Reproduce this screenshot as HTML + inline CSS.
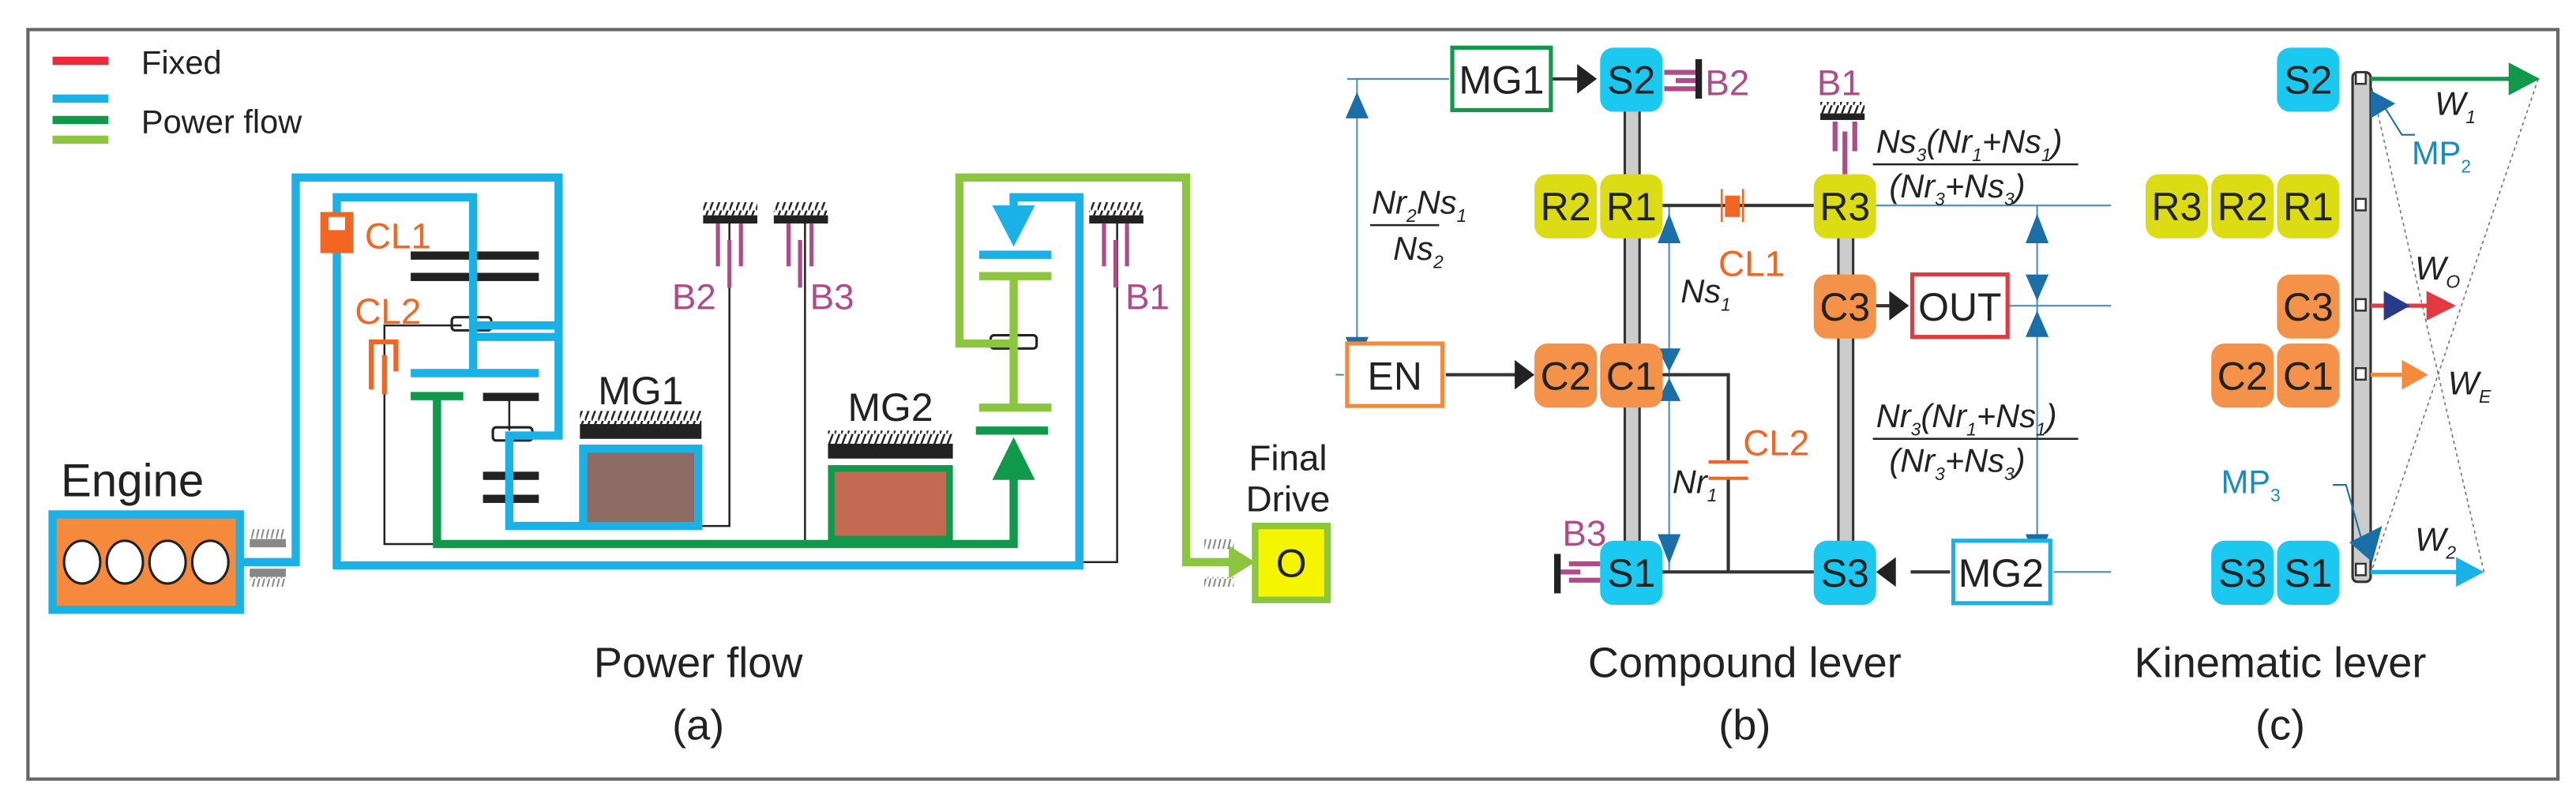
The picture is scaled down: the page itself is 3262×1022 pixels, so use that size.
<!DOCTYPE html>
<html><head><meta charset="utf-8"><style>
html,body{margin:0;padding:0;background:#fff}
svg{display:block}
text{font-family:"Liberation Sans Narrow","Liberation Sans",sans-serif}
</style></head><body>
<svg width="3262" height="1022" viewBox="0 0 1568 491" preserveAspectRatio="none" xmlns="http://www.w3.org/2000/svg">
<defs>
<pattern id="h" width="4" height="8" patternUnits="userSpaceOnUse"><line x1="0" y1="8" x2="3" y2="0" stroke="#222" stroke-width="1.2"/></pattern>
<pattern id="hg" width="3" height="8" patternUnits="userSpaceOnUse"><line x1="0" y1="8" x2="2" y2="0" stroke="#888" stroke-width="1"/></pattern>
</defs>
<rect x="17" y="18" width="1540" height="456" fill="#fff" stroke="#666" stroke-width="2"/>

<!-- ===== Panel (a) ===== -->
<line x1="32" y1="37" x2="66" y2="37" stroke="#ee2a3a" stroke-width="5"/>
<text x="86" y="45" font-size="20" fill="#222">Fixed</text>
<line x1="32" y1="60" x2="66" y2="60" stroke="#1ab2e6" stroke-width="5"/>
<line x1="32" y1="73" x2="66" y2="73" stroke="#10994a" stroke-width="5"/>
<line x1="32" y1="85" x2="66" y2="85" stroke="#8cc63f" stroke-width="5"/>
<text x="86" y="81" font-size="20" fill="#222">Power flow</text>

<!-- thin black lines -->
<g stroke="#222" stroke-width="1.2" fill="none">
<polyline points="444,135 444,320 427,320"/>
<polyline points="490,135 490,330"/>
<polyline points="680,135 680,342 657,342"/>
<polyline points="281,198 234,198 234,331 266,331"/>
<line x1="310" y1="241" x2="310" y2="262"/>
<line x1="617" y1="170" x2="617" y2="200"/>
</g>
<!-- black gear bars -->
<g fill="#222">
<rect x="250" y="153" width="78" height="5"/>
<rect x="250" y="166" width="78" height="5"/>
<rect x="294" y="239" width="34" height="5"/>
<rect x="294" y="287" width="34" height="5"/>
<rect x="294" y="301" width="34" height="5"/>
<rect x="353" y="258" width="74" height="9"/>
<rect x="504" y="270" width="76" height="9"/>
</g>
<rect x="353" y="250" width="74" height="8" fill="url(#h)"/>
<rect x="504" y="262" width="76" height="8" fill="url(#h)"/>
<!-- planet carriers small -->
<g stroke="#222" stroke-width="1.5" fill="none">
<rect x="275" y="193" width="24" height="8" rx="2"/>
<rect x="300" y="260" width="24" height="8" rx="2"/>
<rect x="603" y="204" width="28" height="8" rx="2"/>
</g>

<!-- blue power flow -->
<g stroke="#1ab2e6" stroke-width="5" fill="none" stroke-linejoin="miter">
<polyline points="148,342 180,342 180,108 340,108 340,265 310,265 310,320 353,320"/>
<polyline points="288,227 288,120 205,120 205,344 657,344 657,120 617,120 617,128"/>
<line x1="288" y1="198" x2="340" y2="198"/>
<line x1="288" y1="205" x2="340" y2="205"/>
<line x1="250" y1="227" x2="328" y2="227"/>
<line x1="596" y1="155" x2="640" y2="155"/>
</g>
<polygon points="604,125 630,125 617,150" fill="#1ab2e6"/>
<!-- MG1 -->
<rect x="355" y="273" width="70" height="47" fill="#8b6b63" stroke="#1ab2e6" stroke-width="5"/>
<text x="390" y="246" font-size="24" fill="#222" text-anchor="middle">MG1</text>

<!-- green dark -->
<g stroke="#10994a" stroke-width="5" fill="none">
<polyline points="266,241 266,331 617,331 617,290"/>
<line x1="250" y1="241" x2="282" y2="241"/>
<line x1="594" y1="262" x2="638" y2="262"/>
</g>
<polygon points="604,292 630,292 617,266" fill="#10994a"/>
<!-- MG2 -->
<rect x="506" y="285" width="72" height="43" fill="#c46a52" stroke="#10994a" stroke-width="4"/>
<text x="542" y="256" font-size="24" fill="#222" text-anchor="middle">MG2</text>

<!-- light green -->
<g stroke="#8cc63f" stroke-width="5" fill="none">
<polyline points="617,209 584,209 584,108 722,108 722,342 752,342"/>
<line x1="617" y1="170" x2="617" y2="248"/>
<line x1="596" y1="168" x2="640" y2="168"/>
<line x1="596" y1="248" x2="640" y2="248"/>
</g>
<polygon points="748,332 764,342 748,352" fill="#8cc63f"/>

<!-- CL1 CL2 -->
<rect x="195" y="129" width="20" height="25" fill="#f26522"/>
<rect x="200" y="132" width="10" height="8" fill="#fff"/>
<text x="222" y="151" font-size="22" fill="#f26522">CL1</text>
<text x="216" y="197" font-size="22" fill="#f26522">CL2</text>
<path d="M226,237 V208 H241 V226 M234,216 V240" stroke="#f26522" stroke-width="3" fill="none"/>

<!-- brakes -->
<g fill="#222"><rect x="428" y="131" width="33" height="5"/><rect x="471" y="131" width="33" height="5"/><rect x="663" y="131" width="33" height="5"/></g>
<rect x="428" y="123" width="33" height="8" fill="url(#h)"/>
<rect x="471" y="123" width="33" height="8" fill="url(#h)"/>
<rect x="663" y="123" width="33" height="8" fill="url(#h)"/>
<g stroke="#b04b8a" stroke-width="2.5">
<line x1="437" y1="136" x2="437" y2="162"/><line x1="451" y1="136" x2="451" y2="162"/><line x1="444" y1="146" x2="444" y2="175"/>
<line x1="480" y1="136" x2="480" y2="162"/><line x1="494" y1="136" x2="494" y2="162"/><line x1="487" y1="146" x2="487" y2="175"/>
<line x1="672" y1="136" x2="672" y2="162"/><line x1="686" y1="136" x2="686" y2="162"/><line x1="679" y1="146" x2="679" y2="175"/>
</g>
<g font-size="22" fill="#b04b8a">
<text x="409" y="188">B2</text><text x="493" y="188">B3</text><text x="685" y="188">B1</text>
</g>

<!-- Engine -->
<text x="37" y="302" font-size="28" fill="#222">Engine</text>
<rect x="32" y="313" width="114" height="58" fill="#f58a3c" stroke="#1ab2e6" stroke-width="5"/>
<g fill="#fff" stroke="#222" stroke-width="1.5">
<ellipse cx="50" cy="342" rx="11" ry="13"/><ellipse cx="76" cy="342" rx="11" ry="13"/><ellipse cx="102" cy="342" rx="11" ry="13"/><ellipse cx="128" cy="342" rx="11" ry="13"/>
</g>
<rect x="152" y="328" width="22" height="5" fill="#888"/><rect x="152" y="322" width="22" height="6" fill="url(#hg)"/>
<rect x="152" y="346" width="22" height="5" fill="#888"/><rect x="152" y="351" width="22" height="6" fill="url(#hg)"/>
<rect x="733" y="328" width="18" height="6" fill="url(#hg)"/><rect x="733" y="351" width="18" height="6" fill="url(#hg)"/>

<!-- Final drive -->
<text x="784" y="286" font-size="22" fill="#222" text-anchor="middle">Final</text>
<text x="784" y="311" font-size="22" fill="#222" text-anchor="middle">Drive</text>
<rect x="764" y="320" width="44" height="45" fill="#f5f500" stroke="#8cc63f" stroke-width="4"/>
<text x="786" y="351" font-size="24" fill="#222" text-anchor="middle" font-family="Liberation Serif,serif">O</text>

<text x="425" y="412" font-size="26" fill="#222" text-anchor="middle">Power flow</text>
<text x="425" y="450" font-size="26" fill="#222" text-anchor="middle">(a)</text>

<!-- ===== Panel (b) ===== -->
<g stroke="#4a8db8" stroke-width="1" fill="none">
<line x1="820" y1="48" x2="882" y2="48"/><line x1="813" y1="228" x2="818" y2="228"/>
<line x1="826" y1="48" x2="826" y2="228"/>
<line x1="1016" y1="125" x2="1016" y2="348"/>
<line x1="1142" y1="125" x2="1285" y2="125"/>
<line x1="1222" y1="186" x2="1285" y2="186"/>
<line x1="1250" y1="348" x2="1285" y2="348"/>
<line x1="1240" y1="125" x2="1240" y2="348"/>
</g>
<g fill="#1a6fa8">
<polygon points="819,72 833,72 826,56"/><polygon points="819,205 833,205 826,221"/>
<polygon points="1009,148 1023,148 1016,130"/><polygon points="1009,212 1023,212 1016,226"/>
<polygon points="1009,244 1023,244 1016,230"/><polygon points="1009,325 1023,325 1016,343"/>
<polygon points="1233,148 1247,148 1240,130"/><polygon points="1233,167 1247,167 1240,183"/>
<polygon points="1233,205 1247,205 1240,189"/><polygon points="1233,325 1247,325 1240,343"/>
</g>
<!-- levers -->
<rect x="989" y="60" width="9" height="280" fill="#ccc" stroke="#333" stroke-width="1.5"/>
<rect x="1119" y="130" width="9" height="210" fill="#ccc" stroke="#333" stroke-width="1.5"/>
<g stroke="#333" stroke-width="2" fill="none">
<line x1="1010" y1="125" x2="1105" y2="125"/>
<polyline points="1010,228 1052,228 1052,348"/>
<line x1="1010" y1="348" x2="1105" y2="348"/>
<line x1="1142" y1="186" x2="1150" y2="186"/>
<line x1="945" y1="48" x2="965" y2="48"/>
<line x1="880" y1="228" x2="924" y2="228"/>
<line x1="1250" y1="348" x2="1250" y2="348"/>
<line x1="1163" y1="348" x2="1187" y2="348"/>
</g>
<g fill="#222">
<polygon points="960,39 972,48 960,57"/><polygon points="922,219 934,228 922,237"/>
<polygon points="1150,177 1162,186 1150,195"/><polygon points="1154,339 1142,348 1154,357"/>
</g>
<!-- boxes -->
<rect x="884" y="29" width="60" height="38" fill="#fff" stroke="#10994a" stroke-width="2.5"/>
<text x="914" y="57" font-size="24" fill="#222" text-anchor="middle">MG1</text>
<rect x="820" y="209" width="58" height="38" fill="#fff" stroke="#f58a3c" stroke-width="2.5"/>
<text x="849" y="237" font-size="24" fill="#222" text-anchor="middle">EN</text>
<rect x="1164" y="167" width="58" height="38" fill="#fff" stroke="#e23a40" stroke-width="2.5"/>
<text x="1193" y="195" font-size="24" fill="#222" text-anchor="middle">OUT</text>
<rect x="1189" y="329" width="59" height="38" fill="#fff" stroke="#1ab2e6" stroke-width="2.5"/>
<text x="1218" y="357" font-size="24" fill="#222" text-anchor="middle">MG2</text>
<!-- nodes b -->
<g font-size="24" text-anchor="middle" fill="#222">
<rect x="974" y="29" width="38" height="39" rx="8" fill="#1ac8f0"/><text x="993" y="57">S2</text>
<rect x="934" y="106" width="38" height="39" rx="8" fill="#dcdc14"/><text x="953" y="134">R2</text>
<rect x="974" y="106" width="38" height="39" rx="8" fill="#dcdc14"/><text x="993" y="134">R1</text>
<rect x="1104" y="106" width="38" height="39" rx="8" fill="#dcdc14"/><text x="1123" y="134">R3</text>
<rect x="1104" y="167" width="38" height="39" rx="8" fill="#f5924a"/><text x="1123" y="195">C3</text>
<rect x="934" y="209" width="38" height="39" rx="8" fill="#f5924a"/><text x="953" y="237">C2</text>
<rect x="974" y="209" width="38" height="39" rx="8" fill="#f5924a"/><text x="993" y="237">C1</text>
<rect x="974" y="329" width="38" height="39" rx="8" fill="#1ac8f0"/><text x="993" y="357">S1</text>
<rect x="1104" y="329" width="38" height="39" rx="8" fill="#1ac8f0"/><text x="1123" y="357">S3</text>
</g>
<!-- B2 B1 B3 in b -->
<g stroke="#b04b8a" stroke-width="3">
<line x1="1013" y1="44" x2="1032" y2="44"/><line x1="1020" y1="49" x2="1032" y2="49"/><line x1="1013" y1="54" x2="1032" y2="54"/>
<line x1="1117" y1="74" x2="1117" y2="92"/><line x1="1129" y1="74" x2="1129" y2="92"/><line x1="1123" y1="80" x2="1123" y2="106"/>
<line x1="955" y1="343" x2="974" y2="343"/><line x1="955" y1="353" x2="974" y2="353"/><line x1="950" y1="348" x2="962" y2="348"/>
</g>
<rect x="1032" y="36" width="4" height="24" fill="#222"/>
<rect x="1108" y="69" width="27" height="4" fill="#222"/><rect x="1108" y="62" width="27" height="7" fill="url(#h)"/>
<rect x="946" y="337" width="4" height="24" fill="#222"/>
<g font-size="22" fill="#b04b8a"><text x="1038" y="58">B2</text><text x="1106" y="58">B1</text><text x="951" y="332">B3</text></g>
<!-- CL1/CL2 b -->
<rect x="1050" y="119" width="9" height="13" fill="#f26522"/>
<path d="M1048,115 V135 M1061,115 V135" stroke="#f26522" stroke-width="1.2"/>
<text x="1046" y="168" font-size="22" fill="#f26522">CL1</text>
<path d="M1040,281 H1064 M1040,291 H1064" stroke="#f26522" stroke-width="2"/>
<rect x="1048" y="282" width="8" height="8" fill="#fff"/>
<text x="1061" y="277" font-size="22" fill="#f26522">CL2</text>
<!-- labels b -->
<g font-size="20" fill="#222" font-style="italic">
<text x="1023" y="184">Ns<tspan font-size="11" dy="5">1</tspan></text>
<text x="1018" y="300">Nr<tspan font-size="11" dy="5">1</tspan></text>
<text x="835" y="130">Nr<tspan font-size="11" dy="5">2</tspan><tspan dy="-5">Ns</tspan><tspan font-size="11" dy="5">1</tspan></text>
<text x="848" y="158">Ns<tspan font-size="11" dy="5">2</tspan></text>
<text x="1142" y="93">Ns<tspan font-size="11" dy="5">3</tspan><tspan dy="-5">(Nr</tspan><tspan font-size="11" dy="5">1</tspan><tspan dy="-5">+Ns</tspan><tspan font-size="11" dy="5">1</tspan><tspan dy="-5">)</tspan></text>
<text x="1150" y="120">(Nr<tspan font-size="11" dy="5">3</tspan><tspan dy="-5">+Ns</tspan><tspan font-size="11" dy="5">3</tspan><tspan dy="-5">)</tspan></text>
<text x="1142" y="260">Nr<tspan font-size="11" dy="5">3</tspan><tspan dy="-5">(Nr</tspan><tspan font-size="11" dy="5">1</tspan><tspan dy="-5">+Ns</tspan><tspan font-size="11" dy="5">1</tspan><tspan dy="-5">)</tspan></text>
<text x="1150" y="287">(Nr<tspan font-size="11" dy="5">3</tspan><tspan dy="-5">+Ns</tspan><tspan font-size="11" dy="5">3</tspan><tspan dy="-5">)</tspan></text>
</g>
<g stroke="#222" stroke-width="1.2">
<line x1="834" y1="137" x2="876" y2="137"/>
<line x1="1140" y1="100" x2="1265" y2="100"/>
<line x1="1140" y1="267" x2="1265" y2="267"/>
</g>
<text x="1062" y="412" font-size="26" fill="#222" text-anchor="middle">Compound lever</text>
<text x="1062" y="450" font-size="26" fill="#222" text-anchor="middle">(b)</text>

<!-- ===== Panel (c) ===== -->
<g stroke="#777" stroke-width="0.8" stroke-dasharray="2,2" fill="none">
<line x1="1545" y1="48" x2="1442" y2="352"/>
<line x1="1512" y1="348" x2="1442" y2="46"/>
</g>
<rect x="1432" y="44" width="11" height="310" rx="3" fill="#ccc" stroke="#333" stroke-width="1.5"/>
<g fill="#fff" stroke="#333" stroke-width="1.2">
<rect x="1434" y="44" width="6" height="7"/><rect x="1434" y="121" width="6" height="7"/><rect x="1434" y="182" width="6" height="7"/><rect x="1434" y="224" width="6" height="7"/><rect x="1434" y="343" width="6" height="7"/>
</g>
<g stroke-width="2.5">
<line x1="1443" y1="48" x2="1530" y2="48" stroke="#10994a"/>
<line x1="1443" y1="348" x2="1498" y2="348" stroke="#1ab2e6"/>
<line x1="1443" y1="228" x2="1465" y2="228" stroke="#f58a3c"/>
<line x1="1443" y1="186" x2="1480" y2="186" stroke="#e23a40"/>
</g>
<polygon points="1527,38 1546,48 1527,58" fill="#10994a"/>
<polygon points="1495,339 1512,348 1495,357" fill="#1ab2e6"/>
<polygon points="1462,219 1478,228 1462,237" fill="#f58a3c"/>
<polygon points="1477,177 1495,186 1477,195" fill="#e23a40"/>
<polygon points="1451,177 1467,186 1451,195" fill="#2a3a8a"/>
<polygon points="1443,55 1458,63 1443,72" fill="#1a6fa8"/>
<polygon points="1450,320 1444,342 1430,330" fill="#1a6fa8"/>
<g stroke="#1a6fa8" stroke-width="1" fill="none">
<polyline points="1452,66 1462,82 1470,82"/>
<polyline points="1420,295 1428,295 1438,330"/>
</g>
<g font-size="24" text-anchor="middle" fill="#222">
<rect x="1386" y="29" width="38" height="39" rx="8" fill="#1ac8f0"/><text x="1405" y="57">S2</text>
<rect x="1306" y="106" width="38" height="39" rx="8" fill="#dcdc14"/><text x="1325" y="134">R3</text>
<rect x="1346" y="106" width="38" height="39" rx="8" fill="#dcdc14"/><text x="1365" y="134">R2</text>
<rect x="1386" y="106" width="38" height="39" rx="8" fill="#dcdc14"/><text x="1405" y="134">R1</text>
<rect x="1386" y="167" width="38" height="39" rx="8" fill="#f5924a"/><text x="1405" y="195">C3</text>
<rect x="1346" y="209" width="38" height="39" rx="8" fill="#f5924a"/><text x="1365" y="237">C2</text>
<rect x="1386" y="209" width="38" height="39" rx="8" fill="#f5924a"/><text x="1405" y="237">C1</text>
<rect x="1346" y="329" width="38" height="39" rx="8" fill="#1ac8f0"/><text x="1365" y="357">S3</text>
<rect x="1386" y="329" width="38" height="39" rx="8" fill="#1ac8f0"/><text x="1405" y="357">S1</text>
</g>
<g font-size="20" font-style="italic" fill="#222">
<text x="1482" y="70">W<tspan font-size="11" dy="5">1</tspan></text>
<text x="1470" y="170">W<tspan font-size="11" dy="5">O</tspan></text>
<text x="1490" y="240">W<tspan font-size="11" dy="5">E</tspan></text>
<text x="1470" y="335">W<tspan font-size="11" dy="5">2</tspan></text>
</g>
<g font-size="20" fill="#1a8ac0">
<text x="1468" y="100">MP<tspan font-size="11" dy="5">2</tspan></text>
<text x="1352" y="300">MP<tspan font-size="11" dy="5">3</tspan></text>
</g>
<text x="1388" y="412" font-size="26" fill="#222" text-anchor="middle">Kinematic lever</text>
<text x="1388" y="450" font-size="26" fill="#222" text-anchor="middle">(c)</text>
</svg>
</body></html>
